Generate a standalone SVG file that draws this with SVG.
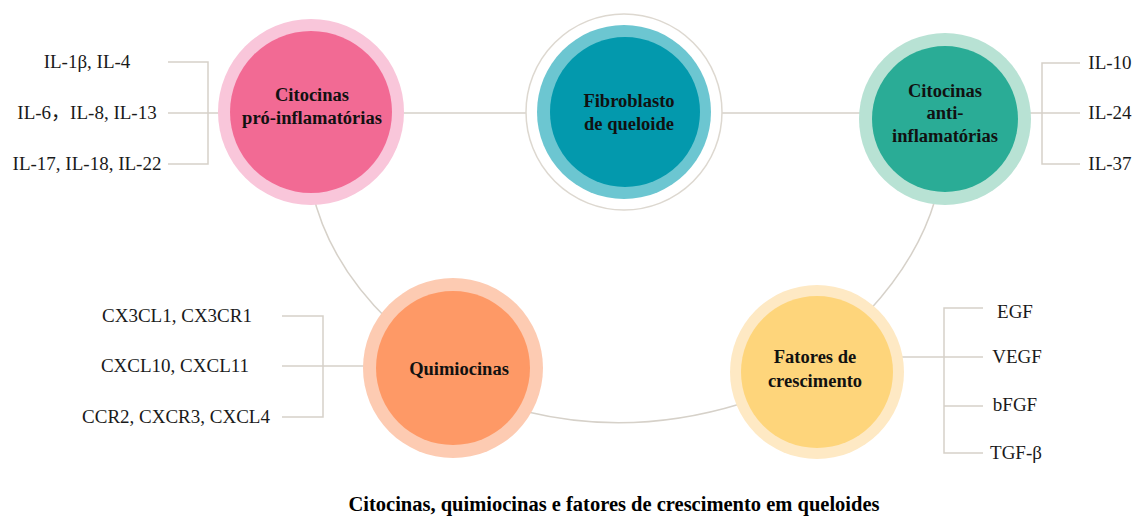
<svg xmlns="http://www.w3.org/2000/svg" width="1139" height="517" viewBox="0 0 1139 517">
<style>
.ln{fill:none;stroke:#d6d1c9;stroke-width:1.5}
.lbl{font-family:"Liberation Serif","Noto Sans CJK SC",serif;font-size:19px;fill:#1a1a1a;text-anchor:middle}
.nd{font-family:"Liberation Serif",serif;font-size:18.5px;font-weight:bold;fill:#111;text-anchor:middle}
.ttl{font-family:"Liberation Serif",serif;font-size:20.5px;font-weight:bold;fill:#000;text-anchor:middle}
</style>
<rect width="1139" height="517" fill="#fff"/>
<g id="connectors">
<path class="ln" d="M311,113 H945"/>
<path class="ln" d="M312,190 Q328,262 390,322"/>
<path class="ln" d="M528,412 Q632,437 740,404"/>
<path class="ln" d="M868,312 Q918,258 935,200"/>
<path class="ln" d="M168,62 H208 V164 H168 M168,113 H225"/>
<path class="ln" d="M1080,63 H1042 V164 H1080 M1080,113 H1025"/>
<path class="ln" d="M282,316 H323 V417 H282 M282,366 H370"/>
<path class="ln" d="M983,308 H944 V453 H983 M983,406 H944 M983,357 H895"/>
</g>
<g id="node-pro">
<circle cx="311" cy="112" r="93" fill="#f9c6da"/>
<circle cx="311" cy="112" r="81" fill="#f26a94"/>
<text class="nd" x="312" y="101">Citocinas</text>
<text class="nd" x="312" y="124">pró-inflamatórias</text>
</g>
<g id="node-fibro">
<circle cx="624" cy="112" r="98" fill="#fff" stroke="#ddd8d0" stroke-width="1.5"/>
<circle cx="624" cy="112" r="87" fill="#6cc6d1"/>
<circle cx="625" cy="112" r="75" fill="#0399ad"/>
<text class="nd" x="629" y="107">Fibroblasto</text>
<text class="nd" x="629" y="130">de queloide</text>
</g>
<g id="node-anti">
<circle cx="945" cy="119" r="86" fill="#b8e2d4"/>
<circle cx="945" cy="119" r="73" fill="#2aac96"/>
<text class="nd" x="945" y="97">Citocinas</text>
<text class="nd" x="945" y="119">anti-</text>
<text class="nd" x="945" y="142">inflamatórias</text>
</g>
<g id="node-quimio">
<circle cx="453" cy="368" r="90" fill="#fdcbb2"/>
<circle cx="453" cy="368" r="77" fill="#fe9966"/>
<text class="nd" x="459" y="375">Quimiocinas</text>
</g>
<g id="node-fatores">
<circle cx="817" cy="372" r="87" fill="#fee9c4"/>
<circle cx="817" cy="372" r="76" fill="#fed57b"/>
<text class="nd" x="815" y="363">Fatores de</text>
<text class="nd" x="815" y="387">crescimento</text>
</g>
<g id="labels">
<text class="lbl" x="87" y="68">IL-1β, IL-4</text>
<text class="lbl" x="87" y="119">IL-6，IL-8, IL-13</text>
<text class="lbl" x="87" y="170">IL-17, IL-18, IL-22</text>
<text class="lbl" x="1110" y="69">IL-10</text>
<text class="lbl" x="1110" y="119">IL-24</text>
<text class="lbl" x="1110" y="170">IL-37</text>
<text class="lbl" x="177" y="322">CX3CL1, CX3CR1</text>
<text class="lbl" x="175" y="372">CXCL10, CXCL11</text>
<text class="lbl" x="176" y="423">CCR2, CXCR3, CXCL4</text>
<text class="lbl" x="1015" y="318">EGF</text>
<text class="lbl" x="1017" y="363">VEGF</text>
<text class="lbl" x="1015" y="411">bFGF</text>
<text class="lbl" x="1016" y="459">TGF-β</text>
</g>
<text class="ttl" x="614" y="511">Citocinas, quimiocinas e fatores de crescimento em queloides</text>
</svg>
